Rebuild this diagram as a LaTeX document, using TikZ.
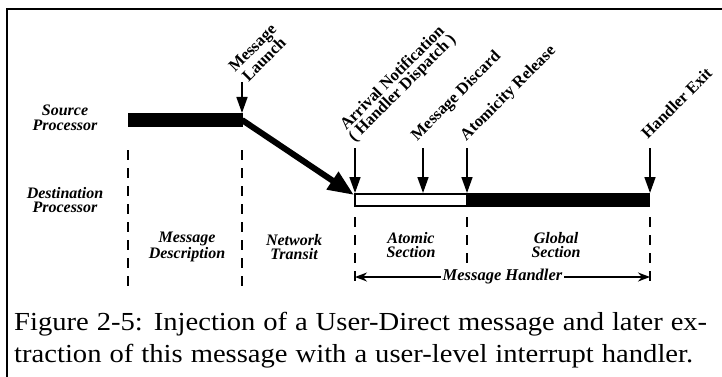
\documentclass[tikz,border=0pt]{standalone}
\usepackage{fontspec}
\setmainfont{Liberation Serif}
\newfontfamily\capfont[FakeStretch=1.1]{Liberation Serif}
\usetikzlibrary{arrows.meta}
\tikzset{
  evt/.style={font=\fontsize{16.5}{14}\selectfont\bfseries, inner sep=0pt, rotate=45, align=center},
  lbl/.style={font=\fontsize{16}{14.5}\selectfont\bfseries\itshape, align=center, inner sep=0pt},
  drop/.style={line width=1.6pt, -{Triangle[length=16pt,width=11pt]}},
  guide/.style={line width=1.6pt, dash pattern=on 10pt off 8pt},
}
\begin{document}
\begin{tikzpicture}[x=1pt,y=-1pt]
  \useasboundingbox (0,0) rectangle (722,377);
  \draw[line width=2pt] (7,377) -- (7,9) -- (722,9);
  % event points
  \coordinate (s0) at (128,120);
  \coordinate (s1) at (242,120);
  \coordinate (d0) at (355,200);
  \coordinate (d1) at (423,200);
  \coordinate (d2) at (467,200);
  \coordinate (d3) at (650,200);
  \coordinate (hit) at (354,195);
  \fill ([yshift=7pt]s0) rectangle ([yshift=-7pt,xshift=1pt]s1);
  \draw[line width=1.6pt] ([yshift=6pt]d0) rectangle ([yshift=-6pt]d2);
  \fill ([yshift=7pt]d2) rectangle ([yshift=-7pt]d3);
  \draw[line width=6pt, -{Triangle[length=26pt,width=20pt]}] (s1) -- (hit);
  % arrows down
  \draw[drop] ([yshift=38pt]s1) -- ([yshift=7pt]s1);
  \foreach \p in {d0,d1,d2,d3} {
    \draw[drop] ([yshift=52pt]\p) -- ([yshift=7pt]\p);
  }
  \foreach \x/\a/\b in {128/150/292,242/150/292,355/217/282,467/217/267,650/217/282} {
    \draw[guide] (\x,\a) -- (\x,\b);
  }
  \node[evt, anchor=west] (launch) at (237,75) {Message\\Launch};
  \node[evt, anchor=south west] (arrival) at (357,145) {Arrival Notification\\( Handler Dispatch )};
  \node[evt, anchor=south west] (discard) at (420,144) {Message Discard};
  \node[evt, anchor=south west] (release) at (469,144) {Atomicity Release};
  \node[evt, anchor=south west] (exit) at (648,140) {Handler Exit};
  \node[lbl] (src) at (65,118) {Source\\Processor};
  \node[lbl] (dst) at (65,200) {Destination\\Processor};
  \node[lbl] (desc) at (187,247) {Message\\Description};
  \node[lbl] (net) at (294,247) {Network\\Transit};
  \node[lbl] (atom) at (411,245) {Atomic\\Section};
  \node[lbl] (glob) at (556,245) {Global\\Section};
  \coordinate (h0) at (355,277);
  \coordinate (h1) at (650,277);
  \draw[line width=1.6pt, {Stealth[length=12pt,width=9pt]}-{Stealth[length=12pt,width=9pt]}]
    (h0) -- node[lbl, font=\fontsize{16.5}{14}\selectfont\bfseries\itshape, fill=white, inner xsep=2pt] (mh) {Message Handler} (h1);
  \node[anchor=base west, inner sep=0pt] (cap1) at (14,330)
    {\capfont\fontsize{26}{32}\selectfont\makebox[693pt][s]{Figure 2-5: Injection of a User-Direct message and later ex-}};
  \node[anchor=base west, inner sep=0pt] (cap2) at (14,362)
    {\capfont\fontsize{26}{32}\selectfont\makebox[679pt][s]{traction of this message with a user-level interrupt handler.}};
\end{tikzpicture}
\end{document}
